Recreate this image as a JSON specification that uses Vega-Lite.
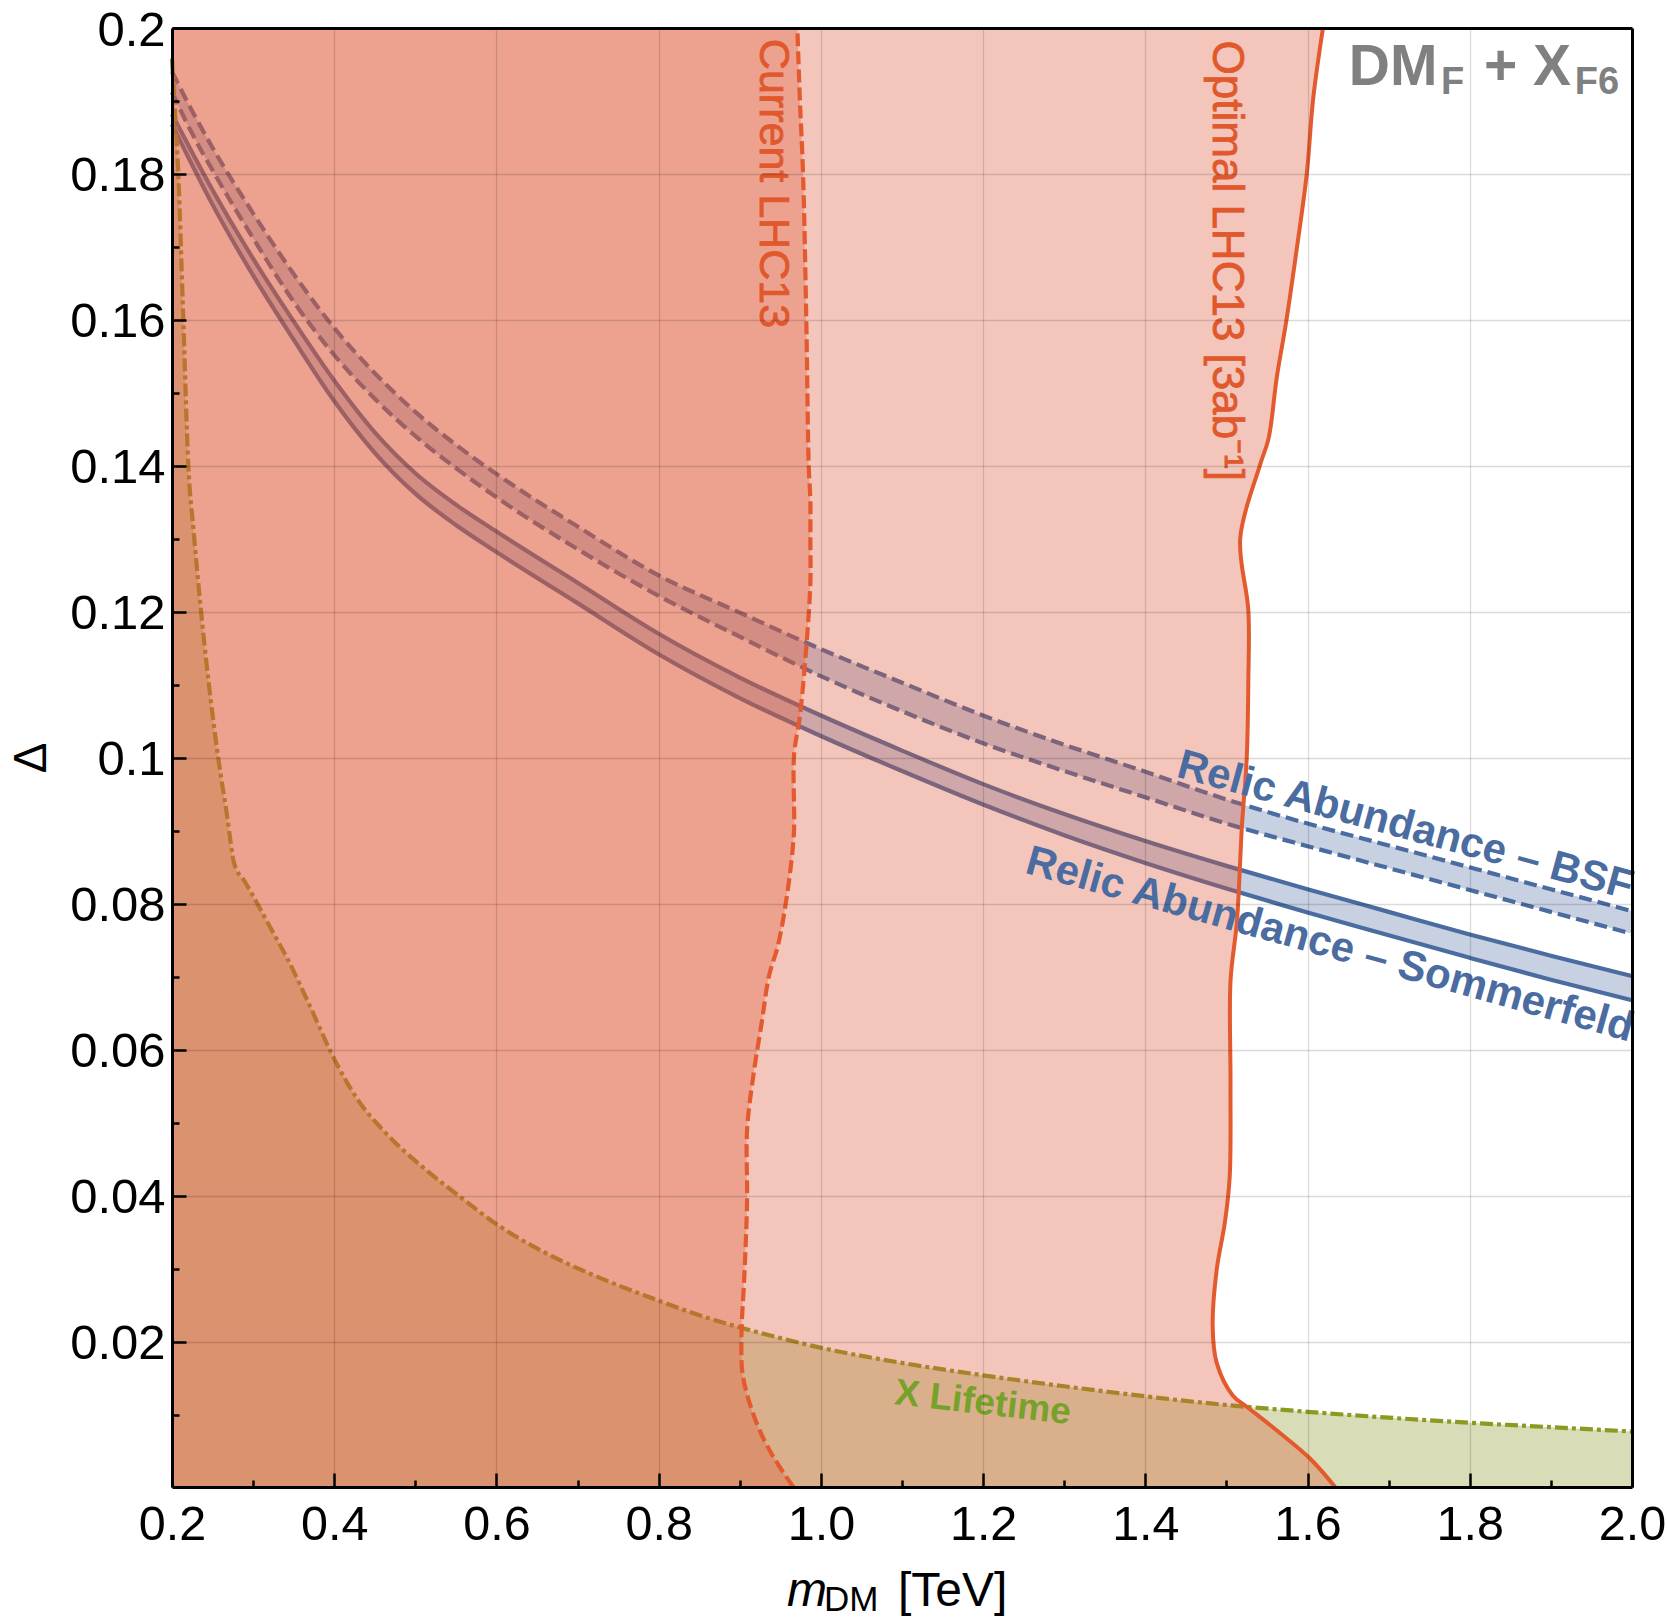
{
  "$schema": "https://vega.github.io/schema/vega-lite/v6.json",
  "width": 1460,
  "height": 1459,
  "autosize": {"type": "none"},
  "padding": {"left": 172, "top": 28, "right": 35, "bottom": 132},
  "background": "white",
  "config": {"view": {"stroke": null}, "font": "Liberation Sans"},
  "datasets": {
    "one": [{"k": 1}],
    "bsf": [
      {"m": 0.2, "lo": 0.1912, "hi": 0.194},
      {"m": 0.225, "lo": 0.1855, "hi": 0.1886},
      {"m": 0.25, "lo": 0.1805, "hi": 0.1836},
      {"m": 0.3, "lo": 0.1712, "hi": 0.1746},
      {"m": 0.35, "lo": 0.1625, "hi": 0.1663},
      {"m": 0.4, "lo": 0.1552, "hi": 0.1589},
      {"m": 0.45, "lo": 0.1492, "hi": 0.1527},
      {"m": 0.5, "lo": 0.1441, "hi": 0.1474},
      {"m": 0.55, "lo": 0.1397, "hi": 0.1429},
      {"m": 0.6, "lo": 0.1357, "hi": 0.1389},
      {"m": 0.7, "lo": 0.1286, "hi": 0.1317},
      {"m": 0.8, "lo": 0.1222, "hi": 0.125},
      {"m": 0.9, "lo": 0.1166, "hi": 0.1199},
      {"m": 1.0, "lo": 0.1112, "hi": 0.1149},
      {"m": 1.1, "lo": 0.1064, "hi": 0.1103},
      {"m": 1.2, "lo": 0.102, "hi": 0.1058},
      {"m": 1.3, "lo": 0.0982, "hi": 0.1018},
      {"m": 1.4, "lo": 0.0946, "hi": 0.0981},
      {"m": 1.5, "lo": 0.091, "hi": 0.0943},
      {"m": 1.6, "lo": 0.0879, "hi": 0.091},
      {"m": 1.7, "lo": 0.0849, "hi": 0.088},
      {"m": 1.8, "lo": 0.0819, "hi": 0.085},
      {"m": 1.9, "lo": 0.0789, "hi": 0.082},
      {"m": 2.0, "lo": 0.0759, "hi": 0.079}
    ],
    "som": [
      {"m": 0.2, "lo": 0.1868, "hi": 0.1882},
      {"m": 0.25, "lo": 0.1758, "hi": 0.1778},
      {"m": 0.3, "lo": 0.1661, "hi": 0.1684},
      {"m": 0.35, "lo": 0.1573, "hi": 0.1598},
      {"m": 0.4, "lo": 0.1489, "hi": 0.1517},
      {"m": 0.45, "lo": 0.1418, "hi": 0.1446},
      {"m": 0.5, "lo": 0.1362, "hi": 0.139},
      {"m": 0.55, "lo": 0.1319, "hi": 0.1347},
      {"m": 0.6, "lo": 0.1282, "hi": 0.131},
      {"m": 0.7, "lo": 0.1212, "hi": 0.124},
      {"m": 0.8, "lo": 0.1142, "hi": 0.117},
      {"m": 0.9, "lo": 0.1082, "hi": 0.111},
      {"m": 1.0, "lo": 0.103, "hi": 0.1058},
      {"m": 1.1, "lo": 0.0982, "hi": 0.101},
      {"m": 1.2, "lo": 0.0936, "hi": 0.0964},
      {"m": 1.3, "lo": 0.0894, "hi": 0.0923},
      {"m": 1.4, "lo": 0.0856, "hi": 0.0886},
      {"m": 1.5, "lo": 0.0821, "hi": 0.0852},
      {"m": 1.6, "lo": 0.0788, "hi": 0.082},
      {"m": 1.7, "lo": 0.0757, "hi": 0.0789},
      {"m": 1.8, "lo": 0.0726, "hi": 0.0758},
      {"m": 1.9, "lo": 0.0696, "hi": 0.0729},
      {"m": 2.0, "lo": 0.0668, "hi": 0.0701}
    ],
    "life": [
      {"m": 0.2, "d": 0.1958}, {"m": 0.2039, "d": 0.188}, {"m": 0.2078, "d": 0.1799},
      {"m": 0.214, "d": 0.1598}, {"m": 0.2201, "d": 0.1401}, {"m": 0.2263, "d": 0.1315},
      {"m": 0.235, "d": 0.121}, {"m": 0.245, "d": 0.1105}, {"m": 0.257, "d": 0.1},
      {"m": 0.268, "d": 0.092}, {"m": 0.2767, "d": 0.0855}, {"m": 0.29, "d": 0.083},
      {"m": 0.3029, "d": 0.0805}, {"m": 0.32, "d": 0.077}, {"m": 0.3422, "d": 0.0725},
      {"m": 0.37, "d": 0.066}, {"m": 0.4011, "d": 0.0585}, {"m": 0.43, "d": 0.053},
      {"m": 0.4601, "d": 0.049}, {"m": 0.5125, "d": 0.0436}, {"m": 0.55, "d": 0.0403},
      {"m": 0.6042, "d": 0.0358}, {"m": 0.66, "d": 0.0322}, {"m": 0.7222, "d": 0.029},
      {"m": 0.8008, "d": 0.0256}, {"m": 0.851, "d": 0.0236}, {"m": 0.902, "d": 0.0219},
      {"m": 0.95, "d": 0.0205}, {"m": 0.999, "d": 0.0192}, {"m": 1.1, "d": 0.0171},
      {"m": 1.2, "d": 0.0154}, {"m": 1.3, "d": 0.0139}, {"m": 1.402, "d": 0.0125},
      {"m": 1.467, "d": 0.0117}, {"m": 1.6, "d": 0.0104}, {"m": 1.7, "d": 0.0096},
      {"m": 1.8, "d": 0.0089}, {"m": 1.9, "d": 0.0083}, {"m": 2.0, "d": 0.0077}
    ],
    "cur": [
      {"d": 0.0001, "m": 0.966}, {"d": 0.0043, "m": 0.941}, {"d": 0.0088, "m": 0.921},
      {"d": 0.0152, "m": 0.904}, {"d": 0.0203, "m": 0.902}, {"d": 0.0299, "m": 0.906},
      {"d": 0.0394, "m": 0.909}, {"d": 0.049, "m": 0.909}, {"d": 0.0567, "m": 0.917},
      {"d": 0.0637, "m": 0.927}, {"d": 0.0701, "m": 0.936}, {"d": 0.0745, "m": 0.9475},
      {"d": 0.081, "m": 0.958}, {"d": 0.0873, "m": 0.965}, {"d": 0.0905, "m": 0.967},
      {"d": 0.1005, "m": 0.967}, {"d": 0.1056, "m": 0.974}, {"d": 0.1152, "m": 0.982},
      {"d": 0.1239, "m": 0.987}, {"d": 0.1298, "m": 0.987}, {"d": 0.1353, "m": 0.987},
      {"d": 0.14, "m": 0.985}, {"d": 0.16, "m": 0.982}, {"d": 0.18, "m": 0.978},
      {"d": 0.1904, "m": 0.974}, {"d": 0.2, "m": 0.971}
    ],
    "opt": [
      {"d": 0.0001, "m": 1.634}, {"d": 0.004, "m": 1.603}, {"d": 0.0075, "m": 1.566},
      {"d": 0.0111, "m": 1.525}, {"d": 0.0126, "m": 1.508}, {"d": 0.0171, "m": 1.488},
      {"d": 0.0222, "m": 1.483}, {"d": 0.0299, "m": 1.488}, {"d": 0.0363, "m": 1.498},
      {"d": 0.0426, "m": 1.504}, {"d": 0.0554, "m": 1.505}, {"d": 0.0694, "m": 1.505},
      {"d": 0.0777, "m": 1.513}, {"d": 0.0905, "m": 1.519}, {"d": 0.1, "m": 1.525},
      {"d": 0.1107, "m": 1.527}, {"d": 0.1202, "m": 1.527}, {"d": 0.1301, "m": 1.517},
      {"d": 0.14, "m": 1.541}, {"d": 0.1438, "m": 1.552}, {"d": 0.1521, "m": 1.562},
      {"d": 0.16, "m": 1.574}, {"d": 0.17, "m": 1.587}, {"d": 0.18, "m": 1.599},
      {"d": 0.1904, "m": 1.607}, {"d": 0.2, "m": 1.619}
    ]
  },
  "resolve": {"axis": {"x": "independent", "y": "independent"}},
  "layer": [
    {
      "data": {"name": "bsf"},
      "mark": {"type": "area", "interpolate": "monotone", "fill": "#4A6CA0", "fillOpacity": 0.31, "stroke": null},
      "encoding": {
        "x": {"field": "m", "type": "quantitative", "scale": {"domain": [0.2, 2.0], "nice": false, "zero": false},
          "axis": {"orient": "bottom", "values": [0.2, 0.4, 0.6, 0.8, 1.0, 1.2, 1.4, 1.6, 1.8, 2.0], "format": ".1f",
            "grid": true, "gridColor": "#000", "gridOpacity": 0.14, "gridWidth": 1.3,
            "ticks": true, "tickSize": -14, "tickWidth": 2.5, "tickColor": "#000",
            "domain": true, "domainColor": "#000", "domainWidth": 3,
            "labelFont": "Liberation Sans", "labelFontSize": 48.5, "labelColor": "#000", "labelPadding": 28,
            "labelFlush": false, "labelOverlap": false, "title": null, "zindex": 1}},
        "y": {"field": "lo", "type": "quantitative", "scale": {"domain": [0.0001, 0.2], "nice": false, "zero": false},
          "axis": {"orient": "left", "values": [0.02, 0.04, 0.06, 0.08, 0.1, 0.12, 0.14, 0.16, 0.18, 0.2],
            "labelExpr": "format(datum.value, '.2~f')",
            "grid": true, "gridColor": "#000", "gridOpacity": 0.14, "gridWidth": 1.3,
            "ticks": true, "tickSize": -14, "tickWidth": 2.5, "tickColor": "#000",
            "domain": true, "domainColor": "#000", "domainWidth": 3,
            "labelFont": "Liberation Sans", "labelFontSize": 49, "labelColor": "#000", "labelPadding": 21, "labelOffset": 2,
            "labelFlush": false, "labelOverlap": false,
            "title": "Δ", "titleFont": "Liberation Sans", "titleFontSize": 46, "titleFontWeight": "normal", "titleColor": "#000", "titlePadding": 14,
            "zindex": 1}},
        "y2": {"field": "hi"}
      }
    },
    {
      "data": {"name": "som"},
      "mark": {"type": "area", "interpolate": "monotone", "fill": "#4A6CA0", "fillOpacity": 0.31, "stroke": null},
      "encoding": {
        "x": {"field": "m", "type": "quantitative", "scale": {"domain": [0.2, 2.0], "nice": false, "zero": false},
          "axis": {"orient": "bottom", "values": [0.3, 0.5, 0.7, 0.9, 1.1, 1.3, 1.5, 1.7, 1.9],
            "labels": false, "grid": false, "domain": false, "ticks": true, "tickSize": -7, "tickWidth": 2.5, "tickColor": "#000", "title": null, "zindex": 1}},
        "y": {"field": "lo", "type": "quantitative", "scale": {"domain": [0.0001, 0.2], "nice": false, "zero": false},
          "axis": {"orient": "left", "values": [0.01, 0.03, 0.05, 0.07, 0.09, 0.11, 0.13, 0.15, 0.17, 0.19],
            "labels": false, "grid": false, "domain": false, "ticks": true, "tickSize": -7, "tickWidth": 2.5, "tickColor": "#000", "title": null, "zindex": 1}},
        "y2": {"field": "hi"}
      }
    },
    {
      "data": {"name": "bsf"},
      "mark": {"type": "line", "interpolate": "monotone", "color": "#4A6CA0", "strokeWidth": 4.2, "strokeDash": [13, 6]},
      "encoding": {
        "x": {"field": "m", "type": "quantitative", "scale": {"domain": [0.2, 2.0], "nice": false, "zero": false},
          "axis": {"orient": "top", "labels": false, "grid": false, "ticks": false, "domain": true, "domainColor": "#000", "domainWidth": 3, "title": null, "zindex": 1}},
        "y": {"field": "hi", "type": "quantitative", "scale": {"domain": [0.0001, 0.2], "nice": false, "zero": false},
          "axis": {"orient": "right", "labels": false, "grid": false, "ticks": false, "domain": true, "domainColor": "#000", "domainWidth": 3, "title": null, "zindex": 1}}
      }
    },
    {
      "data": {"name": "bsf"},
      "mark": {"type": "line", "interpolate": "monotone", "color": "#4A6CA0", "strokeWidth": 4.2, "strokeDash": [13, 6]},
      "encoding": {
        "x": {"field": "m", "type": "quantitative", "scale": {"domain": [0.2, 2.0], "nice": false, "zero": false}, "axis": null},
        "y": {"field": "lo", "type": "quantitative", "scale": {"domain": [0.0001, 0.2], "nice": false, "zero": false}, "axis": null}
      }
    },
    {
      "data": {"name": "som"},
      "mark": {"type": "line", "interpolate": "monotone", "color": "#4A6CA0", "strokeWidth": 4.2},
      "encoding": {
        "x": {"field": "m", "type": "quantitative", "scale": {"domain": [0.2, 2.0], "nice": false, "zero": false}, "axis": null},
        "y": {"field": "hi", "type": "quantitative", "scale": {"domain": [0.0001, 0.2], "nice": false, "zero": false}, "axis": null}
      }
    },
    {
      "data": {"name": "som"},
      "mark": {"type": "line", "interpolate": "monotone", "color": "#4A6CA0", "strokeWidth": 4.2},
      "encoding": {
        "x": {"field": "m", "type": "quantitative", "scale": {"domain": [0.2, 2.0], "nice": false, "zero": false}, "axis": null},
        "y": {"field": "lo", "type": "quantitative", "scale": {"domain": [0.0001, 0.2], "nice": false, "zero": false}, "axis": null}
      }
    },
    {
      "data": {"name": "life"},
      "mark": {"type": "area", "interpolate": "monotone", "fill": "#8C9B2D", "fillOpacity": 0.34, "stroke": null},
      "encoding": {
        "x": {"field": "m", "type": "quantitative", "scale": {"domain": [0.2, 2.0], "nice": false, "zero": false}, "axis": null},
        "y": {"field": "d", "type": "quantitative", "scale": {"domain": [0.0001, 0.2], "nice": false, "zero": false}, "axis": null},
        "y2": {"datum": 0.0001}
      }
    },
    {
      "data": {"name": "life"},
      "mark": {"type": "line", "interpolate": "monotone", "color": "#8C9A22", "strokeWidth": 4.2, "strokeDash": [13, 4, 4, 4]},
      "encoding": {
        "x": {"field": "m", "type": "quantitative", "scale": {"domain": [0.2, 2.0], "nice": false, "zero": false}, "axis": null},
        "y": {"field": "d", "type": "quantitative", "scale": {"domain": [0.0001, 0.2], "nice": false, "zero": false}, "axis": null}
      }
    },
    {
      "data": {"name": "opt"},
      "mark": {"type": "area", "orient": "horizontal", "interpolate": "catmull-rom", "fill": "#DF5737", "fillOpacity": 0.34, "stroke": null},
      "encoding": {
        "y": {"field": "d", "type": "quantitative", "scale": {"domain": [0.0001, 0.2], "nice": false, "zero": false}, "axis": null},
        "x": {"field": "m", "type": "quantitative", "scale": {"domain": [0.2, 2.0], "nice": false, "zero": false}, "axis": null},
        "x2": {"datum": 0.2}
      }
    },
    {
      "data": {"name": "cur"},
      "mark": {"type": "area", "orient": "horizontal", "interpolate": "catmull-rom", "fill": "#DF5737", "fillOpacity": 0.33, "stroke": null},
      "encoding": {
        "y": {"field": "d", "type": "quantitative", "scale": {"domain": [0.0001, 0.2], "nice": false, "zero": false}, "axis": null},
        "x": {"field": "m", "type": "quantitative", "scale": {"domain": [0.2, 2.0], "nice": false, "zero": false}, "axis": null},
        "x2": {"datum": 0.2}
      }
    },
    {
      "data": {"name": "opt"},
      "mark": {"type": "line", "interpolate": "catmull-rom", "color": "#E35A2E", "strokeWidth": 4},
      "encoding": {
        "x": {"field": "m", "type": "quantitative", "scale": {"domain": [0.2, 2.0], "nice": false, "zero": false}, "axis": null},
        "y": {"field": "d", "type": "quantitative", "scale": {"domain": [0.0001, 0.2], "nice": false, "zero": false}, "axis": null},
        "order": {"field": "d", "type": "quantitative"}
      }
    },
    {
      "data": {"name": "cur"},
      "mark": {"type": "line", "interpolate": "catmull-rom", "color": "#E35A2E", "strokeWidth": 4.2, "strokeDash": [13, 5]},
      "encoding": {
        "x": {"field": "m", "type": "quantitative", "scale": {"domain": [0.2, 2.0], "nice": false, "zero": false}, "axis": null},
        "y": {"field": "d", "type": "quantitative", "scale": {"domain": [0.0001, 0.2], "nice": false, "zero": false}, "axis": null},
        "order": {"field": "d", "type": "quantitative"}
      }
    },
    {
      "data": {"name": "one"},
      "mark": {"type": "text", "text": "Current LHC13", "angle": 90, "align": "center", "baseline": "middle", "font": "Liberation Sans", "fontSize": 43, "fill": "#E0582C", "stroke": "#E0582C", "strokeWidth": 0.8},
      "encoding": {
        "x": {"datum": 0.9404, "type": "quantitative", "scale": {"domain": [0.2, 2.0], "nice": false, "zero": false}, "axis": null},
        "y": {"datum": 0.1787, "type": "quantitative", "scale": {"domain": [0.0001, 0.2], "nice": false, "zero": false}, "axis": null}
      }
    },
    {
      "data": {"name": "one"},
      "mark": {"type": "text", "text": "Optimal LHC13 [3ab⁻¹]", "angle": 90, "align": "center", "baseline": "middle", "font": "Liberation Sans", "fontSize": 44, "fill": "#E0582C", "stroke": "#E0582C", "strokeWidth": 0.8},
      "encoding": {
        "x": {"datum": 1.4995, "type": "quantitative", "scale": {"domain": [0.2, 2.0], "nice": false, "zero": false}, "axis": null},
        "y": {"datum": 0.1681, "type": "quantitative", "scale": {"domain": [0.0001, 0.2], "nice": false, "zero": false}, "axis": null}
      }
    },
    {
      "data": {"name": "one"},
      "mark": {"type": "text", "text": "Relic Abundance – BSF", "angle": 15.2, "align": "center", "baseline": "alphabetic", "font": "Liberation Sans", "fontWeight": "bold", "fontSize": 42, "color": "#4A6CA0"},
      "encoding": {
        "x": {"datum": 1.7165, "type": "quantitative", "scale": {"domain": [0.2, 2.0], "nice": false, "zero": false}, "axis": null},
        "y": {"datum": 0.089, "type": "quantitative", "scale": {"domain": [0.0001, 0.2], "nice": false, "zero": false}, "axis": null}
      }
    },
    {
      "data": {"name": "one"},
      "mark": {"type": "text", "text": "Relic Abundance – Sommerfeld", "angle": 15.6, "align": "center", "baseline": "alphabetic", "font": "Liberation Sans", "fontWeight": "bold", "fontSize": 42, "color": "#4A6CA0"},
      "encoding": {
        "x": {"datum": 1.6234, "type": "quantitative", "scale": {"domain": [0.2, 2.0], "nice": false, "zero": false}, "axis": null},
        "y": {"datum": 0.0727, "type": "quantitative", "scale": {"domain": [0.0001, 0.2], "nice": false, "zero": false}, "axis": null}
      }
    },
    {
      "data": {"name": "one"},
      "mark": {"type": "text", "text": "X Lifetime", "angle": 6.5, "align": "center", "baseline": "alphabetic", "font": "Liberation Sans", "fontWeight": "bold", "fontSize": 37, "color": "#76A12B"},
      "encoding": {
        "x": {"datum": 1.198, "type": "quantitative", "scale": {"domain": [0.2, 2.0], "nice": false, "zero": false}, "axis": null},
        "y": {"datum": 0.0101, "type": "quantitative", "scale": {"domain": [0.0001, 0.2], "nice": false, "zero": false}, "axis": null}
      }
    },
    {
      "data": {"name": "one"},
      "mark": {"type": "text", "text": "DM", "align": "left", "baseline": "alphabetic", "font": "Liberation Sans", "fontWeight": "bold", "fontSize": 57, "color": "#808080"},
      "encoding": {
        "x": {"datum": 1.6508, "type": "quantitative", "scale": {"domain": [0.2, 2.0], "nice": false, "zero": false}, "axis": null},
        "y": {"datum": 0.1922, "type": "quantitative", "scale": {"domain": [0.0001, 0.2], "nice": false, "zero": false}, "axis": null}
      }
    },
    {
      "data": {"name": "one"},
      "mark": {"type": "text", "text": "F", "align": "left", "baseline": "alphabetic", "font": "Liberation Sans", "fontWeight": "bold", "fontSize": 38, "color": "#808080"},
      "encoding": {
        "x": {"datum": 1.7645, "type": "quantitative", "scale": {"domain": [0.2, 2.0], "nice": false, "zero": false}, "axis": null},
        "y": {"datum": 0.1909, "type": "quantitative", "scale": {"domain": [0.0001, 0.2], "nice": false, "zero": false}, "axis": null}
      }
    },
    {
      "data": {"name": "one"},
      "mark": {"type": "text", "text": "+ X", "align": "left", "baseline": "alphabetic", "font": "Liberation Sans", "fontWeight": "bold", "fontSize": 57, "color": "#808080"},
      "encoding": {
        "x": {"datum": 1.8175, "type": "quantitative", "scale": {"domain": [0.2, 2.0], "nice": false, "zero": false}, "axis": null},
        "y": {"datum": 0.1922, "type": "quantitative", "scale": {"domain": [0.0001, 0.2], "nice": false, "zero": false}, "axis": null}
      }
    },
    {
      "data": {"name": "one"},
      "mark": {"type": "text", "text": "F6", "align": "left", "baseline": "alphabetic", "font": "Liberation Sans", "fontWeight": "bold", "fontSize": 38, "color": "#808080"},
      "encoding": {
        "x": {"datum": 1.9295, "type": "quantitative", "scale": {"domain": [0.2, 2.0], "nice": false, "zero": false}, "axis": null},
        "y": {"datum": 0.1909, "type": "quantitative", "scale": {"domain": [0.0001, 0.2], "nice": false, "zero": false}, "axis": null}
      }
    },
    {
      "data": {"name": "one"},
      "mark": {"type": "text", "text": "m", "align": "left", "baseline": "alphabetic", "font": "Liberation Sans", "fontStyle": "italic", "fontSize": 48, "color": "#000"},
      "encoding": {
        "x": {"datum": 0.9582, "type": "quantitative", "scale": {"domain": [0.2, 2.0], "nice": false, "zero": false}, "axis": null},
        "y": {"datum": -0.01621, "type": "quantitative", "scale": {"domain": [0.0001, 0.2], "nice": false, "zero": false}, "axis": null}
      }
    },
    {
      "data": {"name": "one"},
      "mark": {"type": "text", "text": "DM", "align": "left", "baseline": "alphabetic", "font": "Liberation Sans", "fontSize": 35, "color": "#000"},
      "encoding": {
        "x": {"datum": 1.0039, "type": "quantitative", "scale": {"domain": [0.2, 2.0], "nice": false, "zero": false}, "axis": null},
        "y": {"datum": -0.0169, "type": "quantitative", "scale": {"domain": [0.0001, 0.2], "nice": false, "zero": false}, "axis": null}
      }
    },
    {
      "data": {"name": "one"},
      "mark": {"type": "text", "text": "[TeV]", "align": "left", "baseline": "alphabetic", "font": "Liberation Sans", "fontSize": 48, "color": "#000"},
      "encoding": {
        "x": {"datum": 1.0951, "type": "quantitative", "scale": {"domain": [0.2, 2.0], "nice": false, "zero": false}, "axis": null},
        "y": {"datum": -0.01621, "type": "quantitative", "scale": {"domain": [0.0001, 0.2], "nice": false, "zero": false}, "axis": null}
      }
    }
  ]
}
